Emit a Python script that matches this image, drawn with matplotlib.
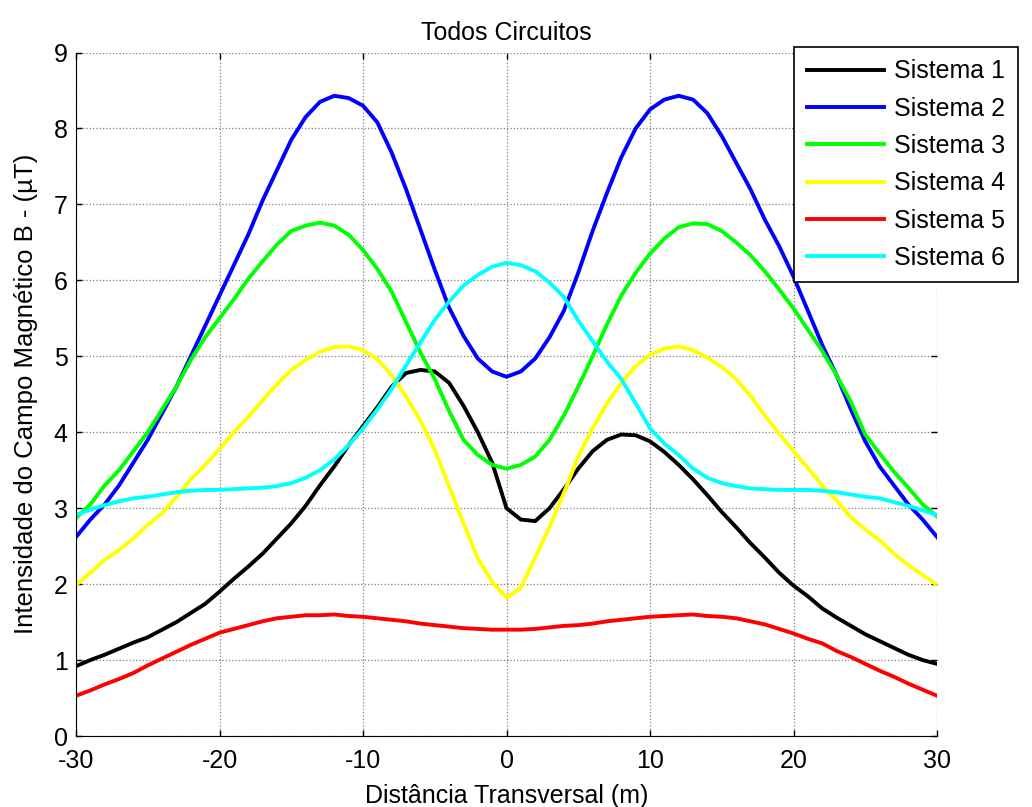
import matplotlib
matplotlib.use('Agg')
import matplotlib.pyplot as plt
import numpy as np

plt.rcParams['font.family'] = ['Liberation Sans', 'DejaVu Sans']
plt.rcParams['axes.unicode_minus'] = False

# distance (m), every 1 m
x = list(range(-30, 31))

sistema1 = [0.92, 1.00, 1.07, 1.15, 1.23, 1.30, 1.40, 1.50, 1.62, 1.74,
            1.90, 2.07, 2.23, 2.40, 2.60, 2.80, 3.03, 3.30, 3.55, 3.83,
            4.08, 4.33, 4.60, 4.78, 4.82, 4.80, 4.65, 4.35, 4.00, 3.60,
            3.00, 2.85, 2.83, 3.00, 3.25, 3.52, 3.75, 3.90, 3.97, 3.96,
            3.88, 3.74, 3.57, 3.38, 3.17, 2.95, 2.75, 2.54, 2.35, 2.15,
            1.98, 1.84, 1.68, 1.56, 1.45, 1.34, 1.25, 1.16, 1.07, 1.00,
            0.95]
sistema2 = [2.62, 2.85, 3.05, 3.30, 3.60, 3.90, 4.25, 4.60, 5.00, 5.40,
            5.80, 6.20, 6.60, 7.05, 7.45, 7.85, 8.15, 8.35, 8.43, 8.40,
            8.30, 8.08, 7.68, 7.20, 6.67, 6.14, 5.64, 5.27, 4.97, 4.80,
            4.73, 4.80, 4.97, 5.25, 5.60, 6.10, 6.65, 7.15, 7.62, 8.00,
            8.25, 8.38, 8.43, 8.38, 8.20, 7.90, 7.55, 7.20, 6.80, 6.45,
            6.05, 5.60, 5.15, 4.75, 4.30, 3.88, 3.55, 3.30, 3.05, 2.85,
            2.62]
sistema3 = [2.87, 3.05, 3.30, 3.50, 3.75, 4.00, 4.30, 4.60, 4.95, 5.25,
            5.50, 5.75, 6.02, 6.25, 6.47, 6.65, 6.72, 6.76, 6.72, 6.60,
            6.40, 6.15, 5.85, 5.45, 5.05, 4.70, 4.28, 3.90, 3.70, 3.57,
            3.52, 3.57, 3.68, 3.90, 4.22, 4.60, 5.00, 5.42, 5.80, 6.10,
            6.35, 6.55, 6.70, 6.75, 6.74, 6.65, 6.50, 6.33, 6.12, 5.88,
            5.63, 5.35, 5.07, 4.75, 4.40, 3.97, 3.72, 3.48, 3.27, 3.05,
            2.89]
sistema4 = [1.99, 2.15, 2.32, 2.45, 2.60, 2.78, 2.93, 3.15, 3.38, 3.57,
            3.78, 4.00, 4.20, 4.42, 4.63, 4.82, 4.95, 5.06, 5.12, 5.13,
            5.08, 4.96, 4.75, 4.47, 4.15, 3.77, 3.29, 2.80, 2.34, 2.03,
            1.82, 1.95, 2.35, 2.75, 3.20, 3.68, 4.05, 4.38, 4.65, 4.87,
            5.02, 5.10, 5.13, 5.08, 4.98, 4.86, 4.70, 4.48, 4.22, 3.98,
            3.75, 3.53, 3.30, 3.10, 2.88, 2.72, 2.58, 2.40, 2.25, 2.12,
            1.99]
sistema5 = [0.53, 0.60, 0.68, 0.75, 0.83, 0.93, 1.02, 1.11, 1.20, 1.28,
            1.36, 1.41, 1.46, 1.51, 1.55, 1.57, 1.59, 1.59, 1.60, 1.58,
            1.57, 1.55, 1.53, 1.51, 1.48, 1.46, 1.44, 1.42, 1.41, 1.40,
            1.40, 1.40, 1.41, 1.43, 1.45, 1.46, 1.48, 1.51, 1.53, 1.55,
            1.57, 1.58, 1.59, 1.60, 1.58, 1.57, 1.55, 1.51, 1.47, 1.41,
            1.35, 1.28, 1.22, 1.12, 1.04, 0.95, 0.86, 0.78, 0.69, 0.61,
            0.53]
sistema6 = [2.91, 2.98, 3.04, 3.09, 3.13, 3.15, 3.18, 3.21, 3.23, 3.24,
            3.24, 3.25, 3.26, 3.27, 3.29, 3.33, 3.40, 3.50, 3.64, 3.83,
            4.05, 4.30, 4.57, 4.88, 5.18, 5.48, 5.72, 5.93, 6.07, 6.18,
            6.23, 6.20, 6.12, 5.97, 5.78, 5.47, 5.20, 4.93, 4.70, 4.38,
            4.05, 3.85, 3.70, 3.52, 3.40, 3.33, 3.29, 3.26, 3.25, 3.24,
            3.24, 3.24, 3.23, 3.21, 3.18, 3.15, 3.13, 3.08, 3.03, 2.97,
            2.91]

series = [sistema1, sistema2, sistema3, sistema4, sistema5, sistema6]
labels = ['Sistema 1', 'Sistema 2', 'Sistema 3', 'Sistema 4', 'Sistema 5', 'Sistema 6']
colors = ['#000000', '#0000ff', '#00ff00', '#ffff00', '#ff0000', '#00ffff']

fig = plt.figure(figsize=(10.32, 8.07), dpi=100)
ax = fig.add_axes([76 / 1032, 1 - 736 / 807, 861 / 1032, 683.5 / 807])

for s, lab, c in zip(series, labels, colors):
    ax.plot(x, s, color=c, lw=2.8, label=lab)

ax.set_xlim(-30, 30)
ax.set_ylim(0, 9)
ax.set_xticks(np.arange(-30, 31, 10))
ax.set_yticks(np.arange(0, 10, 1))
ax.grid(True, color='#7f7f7f', linestyle=':', linewidth=0.9)
ax.spines['top'].set_visible(False)
ax.spines['right'].set_visible(False)
ax.tick_params(direction='in', length=4, width=1, top=True, right=True,
               labelsize=18)
ax.tick_params(axis='x', pad=9)
ax.tick_params(axis='y', pad=6)

ax.set_title('Todos Circuitos', fontsize=18, pad=9)
ax.set_xlabel('Distância Transversal (m)', fontsize=18, labelpad=8)
ax.set_ylabel('Intensidade do Campo Magnético B - (µT)', fontsize=18.5, labelpad=11)

leg = ax.legend(loc='upper left', bbox_to_anchor=(794 / 1032, 1 - 47 / 807),
                bbox_transform=fig.transFigure, fontsize=18, frameon=True,
                fancybox=False, handlelength=3.1, handletextpad=0.4,
                labelspacing=0.53, borderpad=0.5, borderaxespad=0)
leg.get_frame().set_edgecolor('black')
leg.get_frame().set_linewidth(1.2)
leg.get_frame().set_alpha(1)

fig.savefig('out.png', dpi=100)
